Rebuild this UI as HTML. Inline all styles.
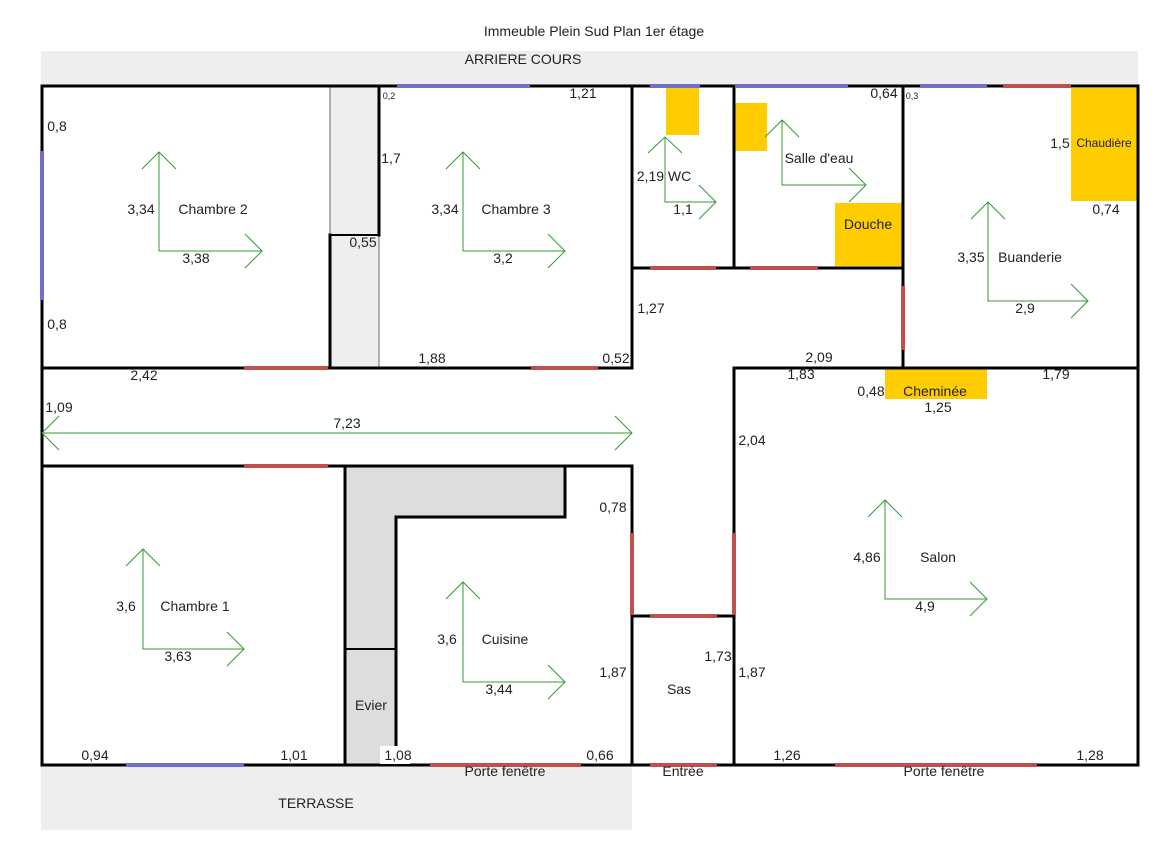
<!DOCTYPE html>
<html><head><meta charset="utf-8"><style>
html,body{margin:0;padding:0;background:#fff;}
svg{display:block;}
text{font-family:"Liberation Sans",Arial,sans-serif;font-size:14px;fill:#222;}
</style></head><body>
<svg width="1165" height="868" viewBox="0 0 1165 868" xmlns="http://www.w3.org/2000/svg">
<rect width="1165" height="868" fill="#fff"/>
<rect x="41" y="51" width="1097" height="35" fill="#eeeeee"/>
<rect x="41" y="765" width="591" height="65" fill="#eeeeee"/>
<rect x="330" y="86" width="49" height="282" fill="#eeeeee"/>
<rect x="345" y="466" width="220" height="51" fill="#dddddd"/>
<rect x="345" y="517" width="51" height="248" fill="#dddddd"/>
<g fill="#ffcc00">
<rect x="666" y="88" width="33" height="47"/>
<rect x="734" y="103" width="33" height="48"/>
<rect x="835" y="203" width="67" height="63"/>
<rect x="1071" y="88" width="66" height="113"/>
<rect x="885" y="369" width="102" height="30"/>
</g>
<g stroke="#999" stroke-width="1.5">
<line x1="330" y1="86" x2="330" y2="235"/>
<line x1="379" y1="235" x2="379" y2="368"/>
</g>
<g stroke="#000" stroke-width="3" fill="none" stroke-linecap="square">
<rect x="42" y="86" width="1096" height="679"/>
<line x1="330" y1="235" x2="330" y2="368"/>
<line x1="379" y1="86" x2="379" y2="235"/>
<line x1="42" y1="368" x2="632" y2="368"/>
<line x1="632" y1="86" x2="632" y2="368"/>
<line x1="632" y1="466" x2="632" y2="765"/>
<line x1="734" y1="86" x2="734" y2="268"/>
<line x1="632" y1="268" x2="903" y2="268"/>
<line x1="903" y1="86" x2="903" y2="368"/>
<line x1="734" y1="368" x2="1138" y2="368"/>
<line x1="734" y1="368" x2="734" y2="765"/>
<line x1="42" y1="466" x2="632" y2="466"/>
<line x1="345" y1="466" x2="345" y2="765"/>
<line x1="396" y1="517" x2="565" y2="517"/>
<line x1="565" y1="466" x2="565" y2="517"/>
<line x1="396" y1="517" x2="396" y2="765"/>
<line x1="632" y1="616" x2="734" y2="616"/>
</g>
<g stroke="#000" stroke-width="2">
<line x1="330" y1="235" x2="379" y2="235"/>
<line x1="345" y1="649" x2="396" y2="649"/>
</g>
<rect x="380" y="746" width="30" height="18" fill="#fff"/>
<g stroke="#c0504d" stroke-width="4">
<line x1="244" y1="368" x2="328" y2="368"/>
<line x1="531" y1="368" x2="598" y2="368"/>
<line x1="244" y1="466" x2="328" y2="466"/>
<line x1="1003" y1="86" x2="1071" y2="86"/>
<line x1="650" y1="268" x2="716" y2="268"/>
<line x1="750" y1="268" x2="818" y2="268"/>
<line x1="903" y1="286" x2="903" y2="350"/>
<line x1="632" y1="533" x2="632" y2="615"/>
<line x1="734" y1="533" x2="734" y2="615"/>
<line x1="650" y1="616" x2="717" y2="616"/>
<line x1="430" y1="765" x2="581" y2="765"/>
<line x1="650" y1="765" x2="717" y2="765"/>
<line x1="835" y1="765" x2="1037" y2="765"/>
</g>
<g stroke="#7070c8" stroke-width="4">
<line x1="42" y1="151" x2="42" y2="300"/>
<line x1="397" y1="86" x2="530" y2="86"/>
<line x1="650" y1="86" x2="700" y2="86"/>
<line x1="735" y1="86" x2="848" y2="86"/>
<line x1="920" y1="86" x2="987" y2="86"/>
<line x1="126" y1="765" x2="244" y2="765"/>
</g>
<g stroke="#339933" stroke-width="1" fill="none">
<path d="M159 152V251H262M142 169L159 152L176 169M245 234L262 251L245 268"/>
<path d="M463 152V251H565M446 169L463 152L480 169M548 234L565 251L548 268"/>
<path d="M665 137V202H716M648 153L665 137L682 153M699 185L716 202L699 219"/>
<path d="M782 120V185H866M765 137L782 120L799 137M849 168L866 185L849 202"/>
<path d="M988 202V301H1088M971 219L988 202L1005 219M1071 284L1088 301L1071 318"/>
<path d="M143 549V649H244M126 566L143 549L160 566M227 632L244 649L227 666"/>
<path d="M463 582V682H565M446 599L463 582L480 599M548 665L565 682L548 699"/>
<path d="M885 500V599H987M868 517L885 500L902 517M970 582L987 599L970 616"/>
<path d="M42 433H632M59 416L42 433L59 450M615 416L632 433L615 450"/>
</g>
<g text-anchor="middle" dominant-baseline="central">
<text x="594" y="31">Immeuble Plein Sud Plan 1er étage</text>
<text x="523" y="59">ARRIERE COURS</text>
<text x="316" y="803">TERRASSE</text>
<text x="57" y="126">0,8</text>
<text x="57" y="324">0,8</text>
<text x="141" y="209">3,34</text>
<text x="213" y="209">Chambre 2</text>
<text x="196" y="258">3,38</text>
<text x="389" y="96" style="font-size:9px">0,2</text>
<text x="583" y="93">1,21</text>
<text x="391" y="158">1,7</text>
<text x="363" y="242">0,55</text>
<text x="445" y="209">3,34</text>
<text x="516" y="209">Chambre 3</text>
<text x="503" y="258">3,2</text>
<text x="432" y="358">1,88</text>
<text x="616" y="358">0,52</text>
<text x="144" y="375">2,42</text>
<text x="59" y="407">1,09</text>
<text x="347" y="423">7,23</text>
<text x="664" y="176">2,19 WC</text>
<text x="683" y="209">1,1</text>
<text x="819" y="158">Salle d'eau</text>
<text x="868" y="224">Douche</text>
<text x="884" y="93">0,64</text>
<text x="912" y="96" style="font-size:9px">0,3</text>
<text x="1060" y="143">1,5</text>
<text x="1104" y="143" style="font-size:12px">Chaudière</text>
<text x="1106" y="209">0,74</text>
<text x="971" y="257">3,35</text>
<text x="1030" y="257">Buanderie</text>
<text x="1025" y="308">2,9</text>
<text x="651" y="308">1,27</text>
<text x="819" y="357">2,09</text>
<text x="801" y="374">1,83</text>
<text x="871" y="391">0,48</text>
<text x="935" y="391">Cheminée</text>
<text x="1056" y="374">1,79</text>
<text x="938" y="407">1,25</text>
<text x="752" y="440">2,04</text>
<text x="613" y="507">0,78</text>
<text x="867" y="557">4,86</text>
<text x="938" y="557">Salon</text>
<text x="925" y="606">4,9</text>
<text x="126" y="606">3,6</text>
<text x="195" y="606">Chambre 1</text>
<text x="178" y="656">3,63</text>
<text x="447" y="639">3,6</text>
<text x="505" y="639">Cuisine</text>
<text x="499" y="689">3,44</text>
<text x="613" y="672">1,87</text>
<text x="679" y="689">Sas</text>
<text x="718" y="656">1,73</text>
<text x="752" y="672">1,87</text>
<text x="371" y="705">Evier</text>
<text x="95" y="755">0,94</text>
<text x="294" y="755">1,01</text>
<text x="398" y="755">1,08</text>
<text x="600" y="755">0,66</text>
<text x="505" y="771">Porte fenêtre</text>
<text x="683" y="771">Entrée</text>
<text x="787" y="755">1,26</text>
<text x="944" y="771">Porte fenêtre</text>
<text x="1090" y="755">1,28</text>
</g>
</svg>
</body></html>
